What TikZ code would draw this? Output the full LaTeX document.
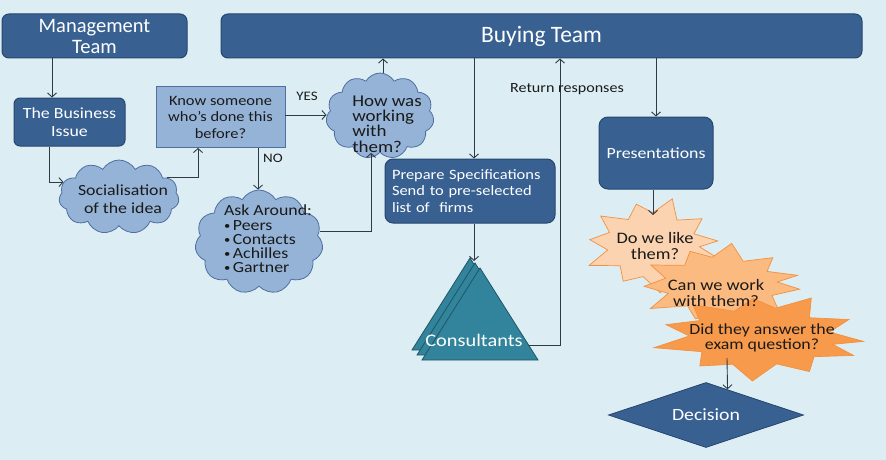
\documentclass[tikz,border=0pt]{standalone}
\usepackage{fontspec}
\setmainfont{Carlito}[FakeStretch=1.15]
\newfontfamily\headfont{Carlito}
\usetikzlibrary{shapes.geometric,shapes.symbols,arrows.meta,calc}
\definecolor{bg}{HTML}{DCEEF4}
\definecolor{dkblue}{HTML}{386192}
\definecolor{dkedge}{HTML}{27466E}
\definecolor{ltblue}{HTML}{95B3D7}
\definecolor{ltedge}{HTML}{4F6FA0}
\definecolor{tealc}{HTML}{31849B}
\definecolor{tealedge}{HTML}{1F5665}
\definecolor{peachA}{HTML}{FBD3B0}
\definecolor{peachB}{HTML}{FABA80}
\definecolor{peachC}{HTML}{F79A4C}
\definecolor{oedge}{HTML}{F2913F}
\definecolor{linec}{HTML}{2E3B46}
\definecolor{txtc}{HTML}{1A1A1A}
\newcommand{\bul}{{\fontsize{11}{11}\selectfont\raisebox{1pt}{•}}\,}
% irregular explosion outline: #1 style, #2 centre, #3 x radius, #4 y radius, #5 rotation
\newcommand{\burst}[5]{%
  \path[#1] (#2) +({0+#5}:{1.0*#3pt} and {1.0*#4pt})
  \foreach \a/\f in {16/0.68, 32/0.95, 50/0.66, 68/1.05, 84/0.7, 100/0.92, 118/0.66, 136/1.0,
                     152/0.7, 168/0.95, 184/0.68, 200/1.05, 218/0.66, 236/0.9, 254/0.7, 272/1.05,
                     290/0.66, 306/0.95, 324/0.7, 340/1.0, 352/0.72}
  { -- +({\a+#5}:{\f*#3pt} and {\f*#4pt}) } -- cycle;}
\tikzset{
  darkbox/.style={draw=dkedge, line width=1pt, fill=dkblue, rounded corners=7pt, text=white, inner sep=0pt},
  cloudy/.style={cloud, cloud puffs=11, cloud puff arc=120, cloud ignores aspect, draw=ltedge, fill=ltblue, line width=0.8pt, inner sep=0pt},
  burstline/.style={draw=oedge, line width=0.7pt, line join=miter},
  ln/.style={draw=linec, line width=0.9pt},
  arr/.style={draw=linec, line width=0.9pt, -{Straight Barb[length=4pt,width=9pt]}},
  fa/.style={font=\fontsize{15.5}{18}\selectfont},
  fb/.style={font=\fontsize{14.3}{16.3}\selectfont},
  lbl/.style={text=txtc, inner sep=0pt},
}
\begin{document}
\begin{tikzpicture}[x=1pt,y=-1pt]
\path[fill=bg] (0,0) rectangle (886,460);
\useasboundingbox (0,0) rectangle (886,460);

% top boxes
\node[darkbox, minimum width=185pt, minimum height=44pt, align=center,
      font=\headfont\fontsize{20.5}{21}\selectfont] (mgmt) at (94.5,36) {Management\\Team};
\node[darkbox, minimum width=641pt, minimum height=44pt,
      font=\headfont\fontsize{23.5}{26}\selectfont] (buy) at (541.5,36) {Buying Team};

% business issue
\node[darkbox, rounded corners=6pt, minimum width=111pt, minimum height=48pt, align=center, fa] (bi) at (69.5,122) {The Business\\Issue};

% socialisation cloud
\node[cloudy, minimum width=120pt, minimum height=74pt] (soc) at (119,197) {};
\node[lbl, fa, align=center] at (123,199) {Socialisation\\of the idea};

% know someone
\node[draw=ltedge, fill=ltblue, line width=0.9pt, minimum width=129pt, minimum height=61pt, inner sep=0pt,
      text=txtc, align=center, font=\fontsize{14.3}{16.5}\selectfont] (know) at (220.5,117) {Know someone\\who’s done this\\before?};

% how was cloud
\node[cloudy, minimum width=108pt, minimum height=86pt] (how) at (380,116) {};
\node[lbl, align=left, font=\fontsize{16.5}{15.3}\selectfont] at (387,124) {How was\\working\\with\\them?};

% ask around cloud
\node[cloudy, minimum width=128pt, minimum height=104pt] (ask) at (259,242) {};
\node[lbl, align=left, font=\fontsize{15.5}{14.2}\selectfont] at (268,239) {Ask Around:\\\bul Peers\\\bul Contacts\\\bul Achilles\\\bul Gartner};

% prepare spec
\node[darkbox, rounded corners=8pt, minimum width=170pt, minimum height=64pt, text width=156pt, align=left, fb] (spec) at (470,191) {Prepare Specifications\\Send to pre-selected\\list of \ firms};

% consultants triangles
\path[fill=tealc, draw=tealedge, line width=0.8pt] (470,258) -- (528,350) -- (412,350) -- cycle;
\path[fill=tealc, draw=tealedge, line width=0.8pt] (475,263) -- (533,355) -- (417,355) -- cycle;
\path[fill=tealc, draw=tealedge, line width=0.8pt] (480,268) -- (538,360) -- (422,360) -- cycle;
\coordinate (consapex) at (474,261);
\coordinate (consR) at (528.5,345);
\node[text=white, inner sep=0pt, font=\fontsize{17.7}{20}\selectfont] (cons) at (474,340) {Consultants};

% presentations
\node[darkbox, rounded corners=9pt, minimum width=114pt, minimum height=72pt, fa] (pres) at (656,153) {Presentations};

% explosions
\coordinate (s1c) at (652,245);
\coordinate (s2c) at (720,285);
\coordinate (s3c) at (760,337);
\burst{burstline, fill=peachA}{s1c}{66}{46}{5}
\burst{burstline, fill=peachB}{s2c}{80}{40}{14}
\burst{burstline, fill=peachC}{s3c}{104}{42}{-6}
\node[lbl, align=center, font=\fontsize{16}{16}\selectfont] (s1t) at (655,246) {Do we like\\them?};
\node[lbl, align=center, font=\fontsize{16}{16}\selectfont] (s2t) at (716,293) {Can we work\\with them?};
\node[lbl, align=center, font=\fontsize{15.5}{15}\selectfont] (s3t) at (762,338) {Did they answer the\\exam question?};
\coordinate (s1in) at (653,215);
\coordinate (s3out) at (727,358);

% decision
\node[diamond, aspect=3, draw=dkedge, fill=dkblue, line width=0.8pt, minimum width=195pt, minimum height=65pt, inner sep=0pt,
      text=white, font=\fontsize{17.2}{20}\selectfont] (dec) at (706,415) {Decision};

% connectors
\draw[arr] ([xshift=-17.5pt]bi.north |- mgmt.south) -- ([xshift=-17.5pt]bi.north);
\draw[arr] ([xshift=-20pt]bi.south) |- (soc.165);
\draw[arr] (soc.22) -| ([xshift=-22.5pt]know.south);
\draw[arr] ([yshift=2pt]know.east) -- ([yshift=2pt]know.east -| how.west);
\node[lbl, font=\fontsize{13}{15}\selectfont] (yes) at (307,96) {YES};
\draw[arr] ([xshift=37.5pt]know.south) -- ([xshift=37.5pt]know.south |- ask.north);
\node[lbl, font=\fontsize{13}{15}\selectfont] (no) at (273,158) {NO};
\draw[arr] (ask.10) -| ([xshift=-9pt]how.south);
\draw[arr] ([xshift=3pt]how.north) -- ([xshift=3pt]how.north |- buy.south);
\draw[arr] ([xshift=4pt]spec.north |- buy.south) -- ([xshift=4pt]spec.north);
\draw[arr] ([xshift=4pt]spec.south) -- (consapex);
\draw[arr] (consR) -| ([xshift=18.5pt]buy.south);
\node[lbl, font=\fontsize{14}{16}\selectfont] (ret) at (567,89) {Return responses};
\draw[arr] (pres.north |- buy.south) -- (pres.north);
\draw[arr] ([xshift=-3pt]pres.south) -- (s1in);
\draw[arr] (s3out) -- ($(dec.north)!0.22!(dec.east)$);
\end{tikzpicture}
\end{document}
